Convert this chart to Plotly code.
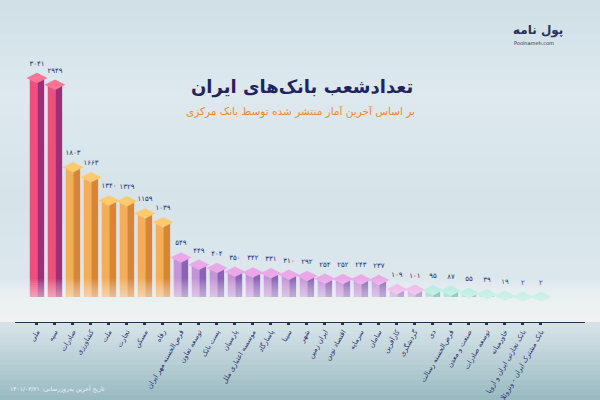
import plotly.graph_objects as go

banks = ["ملی", "سپه", "صادرات", "کشاورزی", "ملت", "تجارت", "مسکن", "رفاه",
         "قرض‌الحسنه مهر ایران", "توسعه تعاون", "پست بانک", "پارسیان",
         "موسسه اعتباری ملل", "پاسارگاد", "سینا", "شهر", "ایران زمین",
         "اقتصاد نوین", "سرمایه", "سامان", "کارآفرین", "گردشگری", "دی",
         "قرض‌الحسنه رسالت", "صنعت و معدن", "توسعه صادرات", "خاورمیانه",
         "بانک تجارتی ایران و اروپا", "بانک مشترک ایران - ونزوئلا"]
branches = [3041, 2949, 1803, 1663, 1340, 1329, 1159, 1039, 549, 449, 404, 350,
            342, 331, 310, 292, 254, 252, 243, 237, 109, 101, 95, 87, 55, 39, 19, 2, 2]

title_text = "تعدادشعب بانک‌های ایران"
subtitle_text = "بر اساس آخرین آمار منتشر شده توسط بانک مرکزی"
footnote_text = "تاریخ آخرین به‌روزرسانی: ۱۴۰۱/۰۳/۲۱"

fa = str.maketrans("0123456789", "۰۱۲۳۴۵۶۷۸۹")
labels = [str(v).translate(fa) for v in branches]

def colors_for(i):
    if i < 2:
        return "#ef4f78", "#9c2f78", "#ff7593"
    if i < 8:
        return "#f6ad55", "#d98538", "#ffca6e"
    if i < 22:
        return "#c793d8", "#8a63b8", "#eaa8e8"
    return "#78d3c2", "#3fa79c", "#a4e8d8"

left_c = [colors_for(i)[0] for i in range(len(banks))]
right_c = [colors_for(i)[1] for i in range(len(banks))]
cap_c = [colors_for(i)[2] for i in range(len(banks))]

FONT = "DejaVu Sans"
fig = go.Figure()
fig.add_trace(go.Bar(x=banks, y=branches, width=0.42, offset=-0.4,
                     marker=dict(color=left_c, line=dict(width=0)), hoverinfo="skip"))
fig.add_trace(go.Bar(x=banks, y=branches, width=0.38, offset=0.02,
                     marker=dict(color=right_c, line=dict(width=0)), hoverinfo="skip"))
fig.add_trace(go.Scatter(x=banks, y=branches, mode="markers+text", text=labels,
                         textposition="top center", cliponaxis=False,
                         textfont=dict(family=FONT, size=7, color="#2a2f6e"),
                         marker=dict(symbol="diamond-wide", size=15, color=cap_c,
                                     line=dict(width=0))))

def hex2rgb(h):
    return tuple(int(h[i:i + 2], 16) for i in (1, 3, 5))

def lerp(c1, c2, t):
    a, b = hex2rgb(c1), hex2rgb(c2)
    return "rgb(%d,%d,%d)" % tuple(round(a[j] + (b[j] - a[j]) * t) for j in range(3))

stops = [(0, "#cfdfe6"), (90, "#dde9ee"), (200, "#d6e4ea"), (300, "#dde8ec"),
         (330, "#d2e1e6"), (360, "#b9d0d6"), (400, "#98b9c1")]
shapes = []
for s in range(len(stops) - 1):
    (ya, ca), (yb, cb) = stops[s], stops[s + 1]
    steps = 8
    for k in range(steps):
        y0 = ya + (yb - ya) * k / steps
        y1 = ya + (yb - ya) * (k + 1) / steps + 0.6
        shapes.append(dict(type="rect", xref="paper", yref="paper", x0=-0.1, x1=1.1,
                           y0=(322 - y1) / 282, y1=(322 - y0) / 282,
                           fillcolor=lerp(ca, cb, (k + 0.5) / steps),
                           line=dict(width=0), layer="below"))
# soft white glow fading bar bottoms
for k in range(22):
    shapes.append(dict(type="rect", xref="paper", yref="y", x0=-0.05, x1=1.05,
                       y0=-347, y1=-347 + (k + 1) * 27, fillcolor="white",
                       opacity=0.065, line=dict(width=0), layer="above"))

H = 400 - 40 - 78
def py(ypix):
    return (400 - 78 - ypix) / H

def px(xpix):
    return (xpix - 15) / 570

fig.update_layout(
    width=600, height=400, margin=dict(l=15, r=15, t=40, b=78, autoexpand=False),
    paper_bgcolor="#d3e2e8", plot_bgcolor="rgba(0,0,0,0)",
    barmode="overlay", showlegend=False, shapes=shapes,
    font=dict(family=FONT, color="#2a2f6e"),
    xaxis=dict(range=[-1.22, 30.45], showgrid=False, zeroline=False, automargin=False,
               showline=True, linecolor="#2a2f4e", linewidth=1,
               ticks="outside", ticklen=2, tickwidth=3, tickcolor="#2a2f4e",
               tickangle=-60, tickfont=dict(family=FONT, size=7, color="#2a2f6e")),
    yaxis=dict(range=[-347, 3570], visible=False, automargin=False),
    annotations=[
        dict(text="<b>" + title_text + "</b>", x=px(302), y=py(87), xref="paper", yref="paper",
             xanchor="center", yanchor="middle",
             showarrow=False, font=dict(family=FONT, size=18, color="#1f2460")),
        dict(text=subtitle_text, x=px(300), y=py(111), xref="paper", yref="paper",
             xanchor="center", yanchor="middle",
             showarrow=False, font=dict(family=FONT, size=10.5, color="#ec8a2e")),
        dict(text="<b>پول نامه</b>", x=px(538), y=py(30), xref="paper", yref="paper",
             xanchor="center", yanchor="middle",
             showarrow=False, font=dict(family=FONT, size=12, color="#2a2f5e")),
        dict(text="Poolnameh.com", x=px(534), y=py(43), xref="paper", yref="paper",
             xanchor="center", yanchor="middle",
             showarrow=False, font=dict(family=FONT, size=5, color="#2a2f5e")),
        dict(text=footnote_text, x=px(8), y=py(389), xref="paper", yref="paper",
             xanchor="left", yanchor="middle", showarrow=False,
             font=dict(family=FONT, size=6, color="#eef4f6")),
    ],
)

fig.write_html("out.html")
